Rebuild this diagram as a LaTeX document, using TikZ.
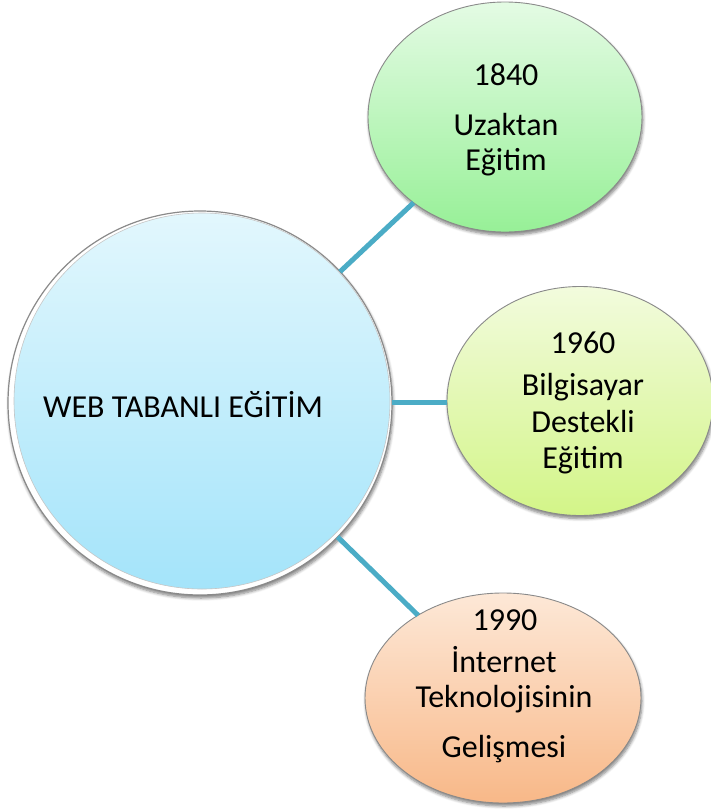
\documentclass[tikz,border=0pt]{standalone}
\usepackage{fontspec}
\setmainfont{Carlito}
\usetikzlibrary{shapes.geometric,shadows.blur}

\definecolor{linkblue}{HTML}{4BACC6}
\definecolor{hubtop}{HTML}{E2F7FD}
\definecolor{hubbot}{HTML}{A4E4FA}
\definecolor{greentop}{HTML}{E4FBE4}
\definecolor{greenbot}{HTML}{97F097}
\definecolor{limetop}{HTML}{F2FBDD}
\definecolor{limebot}{HTML}{D3F588}
\definecolor{peachtop}{HTML}{FDE8D7}
\definecolor{peachbot}{HTML}{F8B888}
\definecolor{rimgray}{HTML}{8A8A8A}

\tikzset{
  softshadow/.style={blur shadow={shadow xshift=1pt, shadow yshift=-3pt,
      shadow blur radius=3pt, shadow blur steps=6, shadow opacity=50}},
  bubble/.style={ellipse, draw=rimgray, line width=0.9pt, inner sep=0pt,
      outer sep=0pt, softshadow},
  hubring/.style={circle, draw=rimgray, line width=1.2pt, fill=white,
      minimum size=384pt, inner sep=0pt, outer sep=0pt, softshadow},
  hubface/.style={circle, draw=gray!45, line width=0.6pt,
      minimum size=376pt, inner sep=0pt,
      shading=axis, top color=hubtop, bottom color=hubbot},
  link/.style={draw=linkblue, line width=5pt},
  lbl/.style={font=\fontsize{32}{38}\selectfont, anchor=base, inner sep=0pt},
  hublbl/.style={font=\fontsize{32}{38}\selectfont, anchor=base, inner sep=0pt}
}

\begin{document}
\begin{tikzpicture}[x=1pt, y=-1pt]
  \useasboundingbox (0,0) rectangle (710,809);

  % central hub: white rim with a bevelled face
  \node[hubring] (hub) at (200,403) {};
  \node[hubface] (hubfill) at (202,401) {};
  \node[hublbl] (hubtext) at (183,417) {WEB TABANLI EĞİTİM};

  % the three milestones
  \node[bubble, minimum width=274pt, minimum height=230pt,
        shading=axis, top color=greentop, bottom color=greenbot] (m1840) at (505,117) {};
  \node[bubble, minimum width=266pt, minimum height=229pt,
        shading=axis, top color=limetop, bottom color=limebot] (m1960) at (580,401) {};
  \node[bubble, minimum width=276pt, minimum height=210pt,
        shading=axis, top color=peachtop, bottom color=peachbot] (m1990) at (503,698) {};

  % connectors from the hub to each milestone
  \draw[link] (hub) -- (m1840);
  \draw[link] (hub.east |- 0,402) -- (m1960.west |- 0,402);
  \draw[link] (hub) -- (m1990);

  % milestone texts
  \node[lbl] (y1840) at (506,85) {1840};
  \node[lbl] (t1840a) at (506,135) {Uzaktan};
  \node[lbl] (t1840b) at (506,170) {Eğitim};

  \node[lbl] (y1960) at (583,353) {1960};
  \node[lbl] (t1960a) at (583,395) {Bilgisayar};
  \node[lbl] (t1960b) at (583,432) {Destekli};
  \node[lbl] (t1960c) at (583,468) {Eğitim};

  \node[lbl] (y1990) at (505,630) {1990};
  \node[lbl] (t1990a) at (504,672) {İnternet};
  \node[lbl] (t1990b) at (504,707) {Teknolojisinin};
  \node[lbl] (t1990c) at (504,757) {Gelişmesi};
\end{tikzpicture}
\end{document}
